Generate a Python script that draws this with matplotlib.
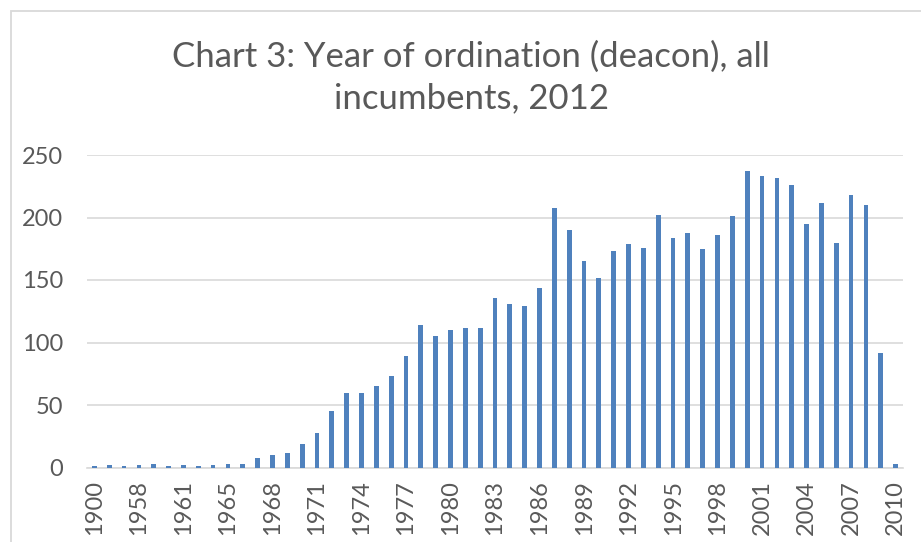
import numpy as np
import matplotlib.pyplot as plt
from matplotlib.patches import Rectangle

# categories as they appear on the axis (only every 3rd one is labelled)
years = ['1900', '', '', '1958', '', '', '1961', '', '', '1965',
         '1966', '1967', '1968', '1969', '1970', '1971', '1972', '1973', '1974', '1975',
         '1976', '1977', '1978', '1979', '1980', '1981', '1982', '1983', '1984', '1985',
         '1986', '1987', '1988', '1989', '1990', '1991', '1992', '1993', '1994', '1995',
         '1996', '1997', '1998', '1999', '2000', '2001', '2002', '2003', '2004', '2005',
         '2006', '2007', '2008', '2009', '2010']
counts = [1, 2, 1, 2, 3, 1, 2, 1, 2, 3,
          3, 8, 10, 12, 19, 28, 45, 60, 60, 65,
          73, 89, 114, 105, 110, 112, 112, 136, 131, 129,
          144, 208, 190, 165, 152, 173, 179, 176, 202, 184,
          188, 175, 186, 201, 237, 233, 232, 226, 195, 212,
          180, 218, 210, 92, 3]

W, H = 921, 542
fig = plt.figure(figsize=(W/100, H/100), dpi=100)
plt.rcParams['font.family'] = ['Lato', 'DejaVu Sans']

# chart border (screenshot is cropped on right / bottom)
fig.patches.append(Rectangle((11/W, -0.1), 1.2, 1 - 11/H + 0.1, transform=fig.transFigure,
                             fill=False, edgecolor='#d9d9d9', linewidth=1.3))

ax = fig.add_axes([87/W, 1 - 467.5/H, (903-87)/W, (467.5-155)/H])
x = np.arange(len(counts))
ax.bar(x, counts, width=0.32, color='#4f81bd', zorder=3)
ax.set_xlim(-0.5, len(counts) - 0.5)
ax.set_ylim(0, 250)
ax.set_yticks([0, 50, 100, 150, 200, 250])
ax.grid(True, axis='y', color='#d9d9d9', linewidth=1.2, zorder=0)
for s in ['top', 'right', 'left']:
    ax.spines[s].set_visible(False)
ax.spines['bottom'].set_color('#d9d9d9')
ax.spines['bottom'].set_linewidth(1.2)

ax.set_xticks(x[::3])
ax.set_xticklabels([years[i] for i in x[::3]], rotation=90)
ax.tick_params(axis='x', length=0, pad=9, labelsize=17, labelcolor='#595959')
ax.tick_params(axis='y', length=0, pad=17, labelsize=17, labelcolor='#595959')

fig.text(471/W, 1 - 67/H, 'Chart 3: Year of ordination (deacon), all', ha='center', va='baseline',
         fontsize=25, color='#595959')
fig.text(471/W, 1 - 108/H, 'incumbents, 2012', ha='center', va='baseline',
         fontsize=25, color='#595959')

fig.savefig('out.png', dpi=100)
